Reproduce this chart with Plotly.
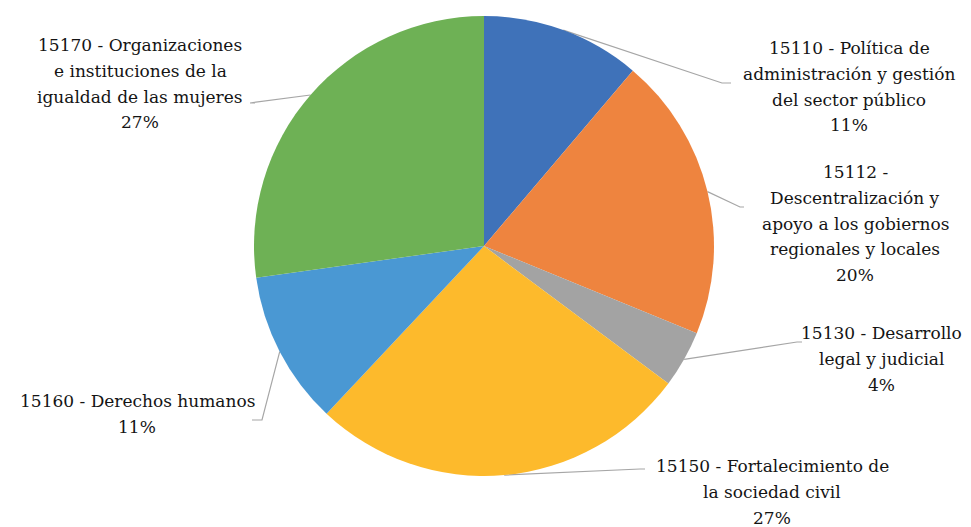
import math
import plotly.graph_objects as go

# ---- data ----
codes = ["15110", "15112", "15130", "15150", "15160", "15170"]
names = [
    "Política de\nadministración y gestión\ndel sector público",
    "\nDescentralización y\napoyo a los gobiernos\nregionales y locales",
    "Desarrollo\nlegal y judicial",
    "Fortalecimiento de\nla sociedad civil",
    "Derechos humanos",
    "Organizaciones\ne instituciones de la\nigualdad de las mujeres",
]
shares = [11.2, 20.0, 4.0, 26.8, 10.8, 27.2]
colors = ["#3F72B9", "#EE843F", "#A3A3A3", "#FDBA2C", "#4A98D3", "#6EB155"]

# ---- layout constants (window pixels) ----
VW, VH = 971, 527
OFF = 8  # page body margin
W, H = VW - OFF, VH - OFF
CX, CY, R = 484, 246, 230
FONT = "DejaVu Serif"
FS = 17
LINE_H = 25.8
# label block: center x, center y of first line
label_pos = [(849, 48), (855, 172), (881, 333), (772, 466), (137, 401), (140, 45)]
# leader line: elbow point, end point
leader = [
    ((722, 83), (731, 83)),
    ((740, 207), (744, 207)),
    ((797, 342), (802, 342)),
    ((640, 469), (645, 469)),
    ((262, 420), (252, 420)),
    ((250, 103), (255, 103)),
]


def px(x):
    return (x - OFF) / W


def py(y):
    return 1 - (y - OFF) / H


fig = go.Figure(go.Pie(
    labels=[f"{c} - {n}".replace("\n", " ") for c, n in zip(codes, names)],
    values=shares,
    sort=False,
    direction="clockwise",
    rotation=0,
    marker=dict(colors=colors, line=dict(width=0)),
    textinfo="none",
    hoverinfo="label+percent",
    domain=dict(x=[px(CX - R), px(CX + R)], y=[py(CY + R), py(CY - R)]),
    showlegend=False,
))

total = sum(shares)
cum = 0.0
shapes = []
annotations = []
for i, v in enumerate(shares):
    mid = (cum + v / 2) / total * 2 * math.pi
    cum += v
    sx = CX + R * math.sin(mid)
    sy = CY - R * math.cos(mid)
    (ex, ey), (fx, fy) = leader[i]
    path = f"M {px(sx)} {py(sy)} L {px(ex)} {py(ey)} L {px(fx)} {py(fy)}"
    shapes.append(dict(type="path", xref="paper", yref="paper", path=path,
                       line=dict(color="#A6A6A6", width=1.2), layer="below"))
    pct = round(v / total * 100)
    sep = " -" if i == 1 else " - "
    lines = (f"{codes[i]}{sep}{names[i]}").split("\n") + [f"{pct}%"]
    lx, ly = label_pos[i]
    for k, line in enumerate(lines):
        annotations.append(dict(x=px(lx), y=py(ly + k * LINE_H), xref="paper", yref="paper",
                                text=line, showarrow=False, xanchor="center", yanchor="middle",
                                align="center", font=dict(family=FONT, size=FS, color="#141414")))

fig.update_layout(
    width=W, height=H,
    margin=dict(l=0, r=0, t=0, b=0),
    font=dict(family=FONT),
    paper_bgcolor="white", plot_bgcolor="white",
    shapes=shapes, annotations=annotations,
)
fig.write_html("out.html")
